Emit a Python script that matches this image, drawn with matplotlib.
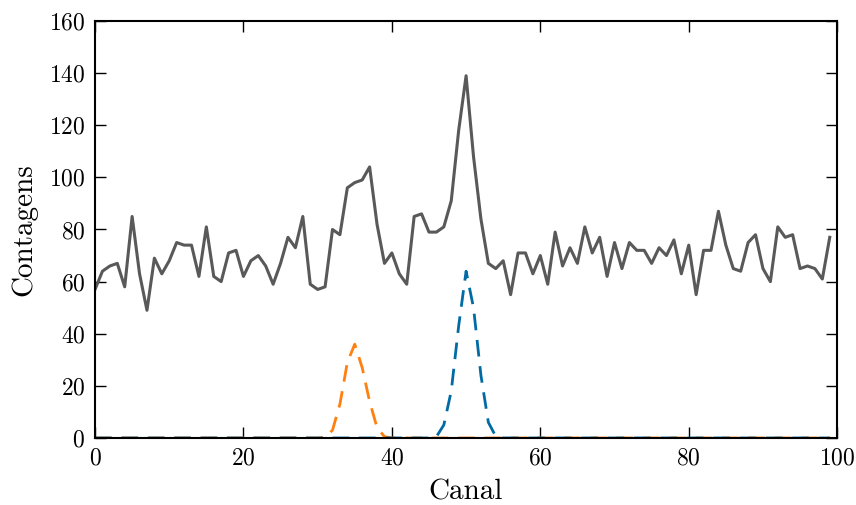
import numpy as np
import matplotlib
matplotlib.use("Agg")
import matplotlib.pyplot as plt

plt.rcParams["font.family"] = "serif"
plt.rcParams["font.serif"] = ["cmr10"]
plt.rcParams["axes.formatter.use_mathtext"] = True
plt.rcParams["mathtext.fontset"] = "cm"

# contagens por canal (espectro medido)
canal = np.arange(100)
contagens = [57, 64, 66, 67, 58, 85, 63, 49, 69, 63,
             68, 75, 74, 74, 62, 81, 62, 60, 71, 72,
             62, 68, 70, 66, 59, 67, 77, 73, 85, 59,
             57, 58, 80, 78, 96, 98, 99, 104, 82, 67,
             71, 63, 59, 85, 86, 79, 79, 81, 91, 118,
             139, 108, 84, 67, 65, 68, 55, 71, 71, 63,
             70, 59, 79, 66, 73, 67, 81, 71, 77, 62,
             75, 65, 75, 72, 72, 67, 73, 70, 76, 63,
             74, 55, 72, 72, 87, 74, 65, 64, 75, 78,
             65, 60, 81, 77, 78, 65, 66, 65, 61, 77]

# picos ajustados (valores não nulos por canal)
pico1_canais = [31, 32, 33, 34, 35, 36, 37, 38, 39]
pico1_valores = [0.3, 3, 13, 29, 36, 27, 14, 4, 0.5]
pico2_canais = [46, 47, 48, 49, 50, 51, 52, 53, 54]
pico2_valores = [0.5, 5, 18, 43, 64, 50, 24, 6, 0.6]

pico1 = np.zeros(100)
pico1[pico1_canais] = pico1_valores
pico2 = np.zeros(100)
pico2[pico2_canais] = pico2_valores

fig = plt.figure(figsize=(8.56, 5.05), dpi=100)
ax = fig.add_axes([0.111, 0.1327, 0.867, 0.8257])

ax.plot(canal, contagens, color="#595959", lw=2.2)
ax.plot(canal, pico1, color="#FF800E", lw=2, ls=(0, (6, 3.5)))
ax.plot(canal, pico2, color="#006BA4", lw=2, ls=(0, (6, 3.5)))

ax.set_xlim(0, 100)
ax.set_ylim(0, 160)
ax.set_xticks(np.arange(0, 101, 20))
ax.set_yticks(np.arange(0, 161, 20))
ax.tick_params(direction="in", length=8, width=1, top=True, right=True,
               labelsize=17, pad=7)
for s in ax.spines.values():
    s.set_linewidth(1.5)

ax.set_xlabel("Canal", fontsize=21, labelpad=7)
ax.set_ylabel("Contagens", fontsize=21, labelpad=8)

fig.savefig("out.png", dpi=100)
